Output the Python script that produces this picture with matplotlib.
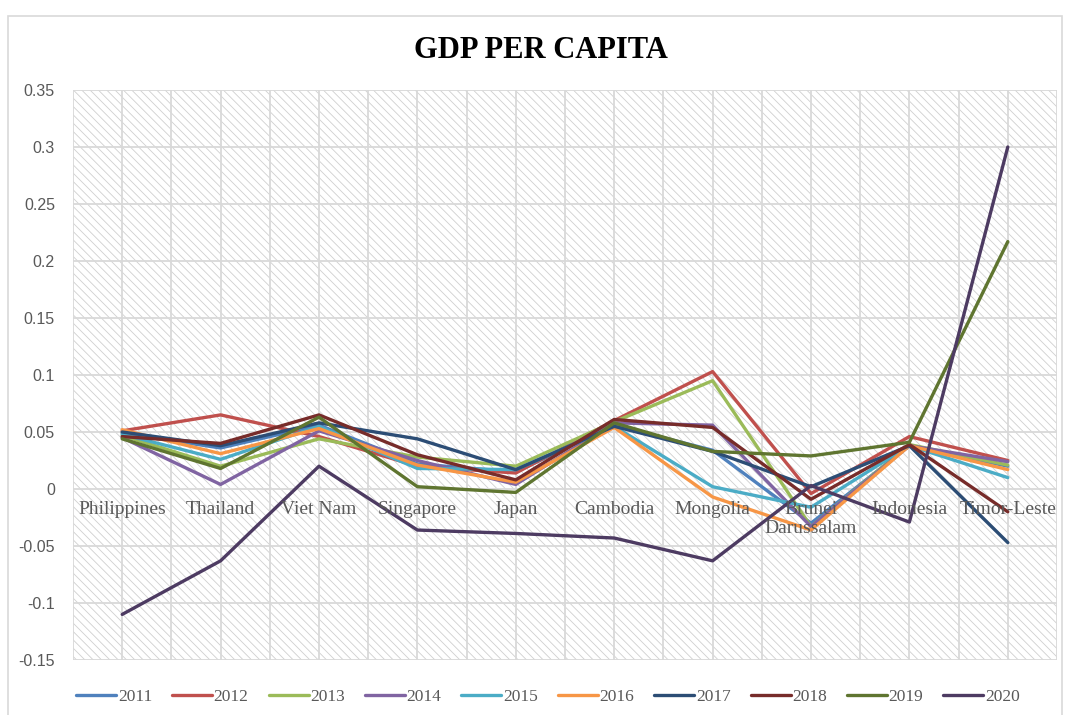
import matplotlib.pyplot as plt
from matplotlib.patches import Rectangle

plt.rcParams['axes.unicode_minus'] = False
plt.rcParams['hatch.linewidth'] = 0.6

countries = ['Philippines', 'Thailand', 'Viet Nam', 'Singapore', 'Japan',
             'Cambodia', 'Mongolia', 'Brunei\nDarussalam', 'Indonesia', 'Timor-Leste']

years = ['2011', '2012', '2013', '2014', '2015',
         '2016', '2017', '2018', '2019', '2020']

g2011 = [0.049, 0.036, 0.056, 0.022, 0.015, 0.056, 0.034, -0.030, 0.038, 0.020]
g2012 = [0.051, 0.065, 0.046, 0.020, 0.014, 0.060, 0.103, -0.004, 0.046, 0.025]
g2013 = [0.047, 0.020, 0.044, 0.028, 0.020, 0.059, 0.095, -0.033, 0.039, 0.021]
g2014 = [0.045, 0.004, 0.051, 0.025, 0.004, 0.058, 0.056, -0.033, 0.038, 0.024]
g2015 = [0.048, 0.026, 0.055, 0.018, 0.017, 0.055, 0.002, -0.016, 0.038, 0.010]
g2016 = [0.052, 0.031, 0.053, 0.021, 0.006, 0.054, -0.007, -0.036, 0.038, 0.017]
g2017 = [0.050, 0.038, 0.058, 0.044, 0.017, 0.055, 0.033, 0.002, 0.038, -0.047]
g2018 = [0.046, 0.040, 0.065, 0.030, 0.008, 0.061, 0.054, -0.009, 0.039, -0.020]
g2019 = [0.044, 0.018, 0.063, 0.002, -0.003, 0.058, 0.033, 0.029, 0.041, 0.217]
g2020 = [-0.110, -0.063, 0.020, -0.036, -0.039, -0.043, -0.063, 0.003, -0.029, 0.300]

series = [g2011, g2012, g2013, g2014, g2015, g2016, g2017, g2018, g2019, g2020]
colors = ['#4F81BD', '#C0504D', '#9BBB59', '#8064A2', '#4BACC6',
          '#F79646', '#2C4D75', '#772C2A', '#5F7530', '#4D3B62']

yticks = [-0.15, -0.1, -0.05, 0, 0.05, 0.1, 0.15, 0.2, 0.25, 0.3, 0.35]

fig = plt.figure(figsize=(10.65, 7.15), dpi=100)

# outer chart frame
fig.patches.append(Rectangle((8 / 1065, -0.01), 1054 / 1065, 1 - 16 / 715 + 0.01,
                             transform=fig.transFigure, fill=False,
                             edgecolor='#d9d9d9', linewidth=1.2))

ax = fig.add_axes([73 / 1065, 55 / 715, 984 / 1065, 570 / 715])

# hatched plot area
ax.add_patch(Rectangle((0, 0), 1, 1, transform=ax.transAxes, facecolor='white',
                       edgecolor='#cfcfcf', hatch='\\\\\\\\', linewidth=0, zorder=0))

x = list(range(len(countries)))
for vals, yr, c in zip(series, years, colors):
    ax.plot(x, vals, color=c, linewidth=2.4, label=yr, solid_capstyle='round',
            solid_joinstyle='round', zorder=3)

ax.set_xlim(-0.5, len(countries) - 0.5)
ax.set_ylim(-0.15, 0.35)

# grid lines at category edges and centres
for gx in [i * 0.5 - 0.5 for i in range(2 * len(countries) + 1)]:
    ax.axvline(gx, color='#d9d9d9', linewidth=1.3, zorder=1)
for gy in yticks:
    ax.axhline(gy, color='#d9d9d9', linewidth=1.3, zorder=1)

for s in ax.spines.values():
    s.set_visible(False)

ax.set_yticks(yticks)
ax.set_yticklabels([f'{v:g}' for v in yticks], fontfamily='Liberation Sans',
                   fontsize=11.5, color='#595959')
ax.tick_params(axis='y', length=0, pad=13)
ax.set_xticks([])

# category labels sit along the zero line
for i, name in enumerate(countries):
    ax.annotate(name, (i, 0), xytext=(0, -9), textcoords='offset points',
                ha='center', va='top', fontfamily='Liberation Serif',
                fontsize=14, color='#595959', linespacing=1.1, zorder=4)

fig.text(541 / 1065, 1 - 50 / 715, 'GDP PER CAPITA', ha='center', va='center',
         fontfamily='Liberation Serif', fontweight='bold', fontsize=22, color='black')

leg = fig.legend(loc='center', bbox_to_anchor=(548 / 1065, 1 - 697 / 715), ncol=10,
                 frameon=False, handlelength=2.3, handletextpad=0.1, columnspacing=1.15,
                 prop={'family': 'Liberation Serif', 'size': 12.5})
for t in leg.get_texts():
    t.set_color('#595959')

fig.savefig('out.png', dpi=100)
